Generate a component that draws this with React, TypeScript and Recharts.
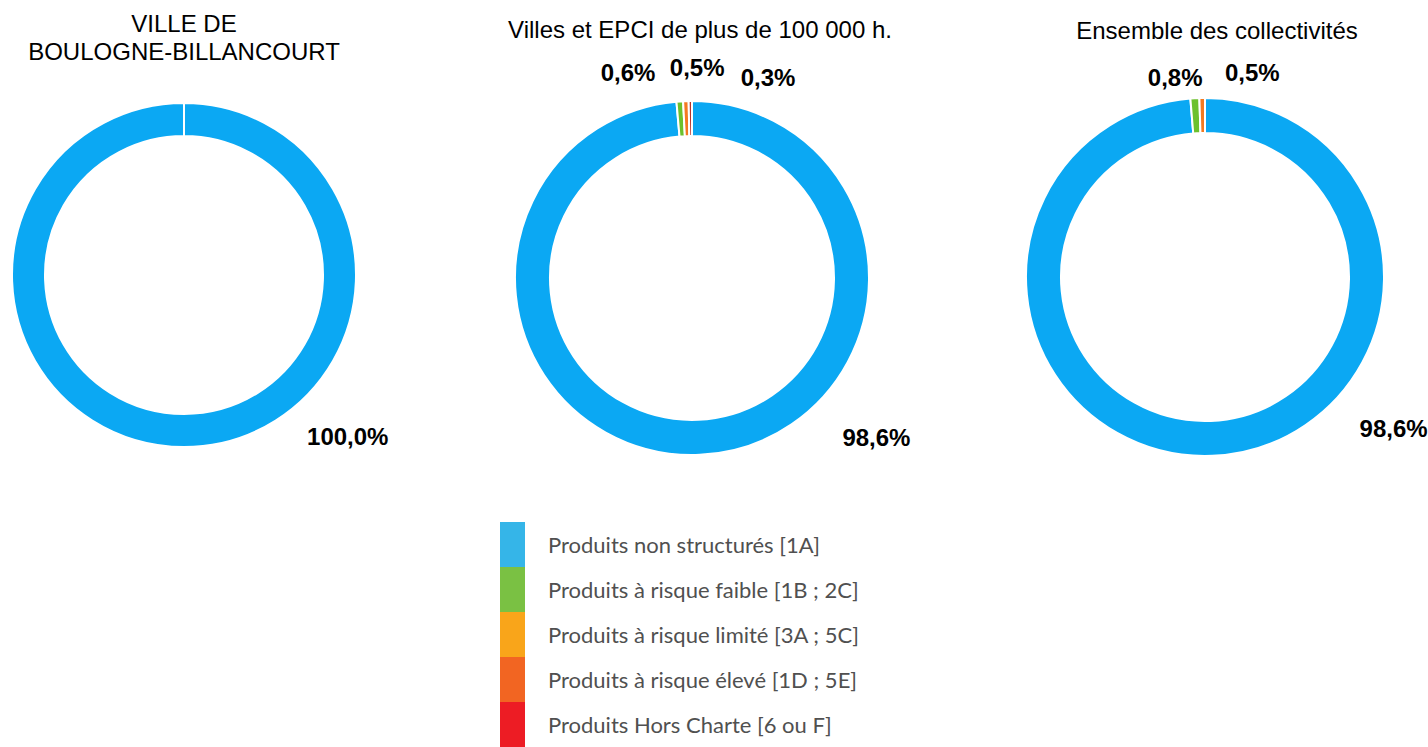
import React from 'react'
import { PieChart, Pie, Cell } from 'recharts'

const CATEGORIES = [
  'Produits non structurés [1A]',
  'Produits à risque faible [1B ; 2C]',
  'Produits à risque limité [3A ; 5C]',
  'Produits à risque élevé [1D ; 5E]',
  'Produits Hors Charte [6 ou F]',
]
const LEGEND_COLORS = ['#35B5E8', '#7AC143', '#F9A51A', '#F26522', '#ED1C24']

const TITLES = ['VILLE DE\nBOULOGNE-BILLANCOURT', 'Villes et EPCI de plus de 100 000 h.', 'Ensemble des collectivités']

// slices drawn clockwise from 12 o'clock
const BOULOGNE_VALUES = [100.0]
const BOULOGNE_COLORS = ['#0BA8F3']
const EPCI_VALUES = [98.6, 0.6, 0.5, 0.3]
const EPCI_COLORS = ['#0BA8F3', '#6CC12C', '#F47920', '#B8312A']
const ENSEMBLE_VALUES = [98.6, 0.8, 0.5]
const ENSEMBLE_COLORS = ['#0BA8F3', '#6CC12C', '#F47920']

// label placement per slice: angle (deg) and distance from centre
const LABEL_SPOTS = [
  [{ a: -44.6, r: 230 }],
  [{ a: -40.9, r: 244 }, { a: 107.3, r: 215 }, { a: 88.6, r: 211 }, { a: 69.2, r: 214 }],
  [{ a: -38.8, r: 242 }, { a: 98.5, r: 202 }, { a: 77, r: 210 }],
]

const fmt = (v: number) => v.toFixed(1).replace('.', ',') + '%'

const makeLabel = (chart: number) => (props: any) => {
  const { cx, cy, index, value } = props
  const spot = LABEL_SPOTS[chart][index]
  const rad = (spot.a * Math.PI) / 180
  return (
    <text
      x={cx + spot.r * Math.cos(rad)}
      y={cy - spot.r * Math.sin(rad)}
      textAnchor="middle"
      dominantBaseline="central"
      fontSize={24}
      fontWeight="bold"
      fill="#000"
      fontFamily="'Liberation Sans', Arial, sans-serif"
    >
      {fmt(value)}
    </text>
  )
}

const PIES = [
  { values: BOULOGNE_VALUES, colors: BOULOGNE_COLORS, cx: 184, cy: 275, inner: 139, outer: 172 },
  { values: EPCI_VALUES, colors: EPCI_COLORS, cx: 692, cy: 278, inner: 142, outer: 177 },
  { values: ENSEMBLE_VALUES, colors: ENSEMBLE_COLORS, cx: 1205, cy: 277, inner: 144, outer: 179 },
]

const titleX = [184, 700, 1217]
const titleY = [24, 30, 31]

export default function App() {
  return (
    <div style={{ position: 'absolute', left: 0, top: 0, width: 1428, height: 747, background: '#fff', overflow: 'hidden' }}>
      {TITLES.map((t, i) => (
        <div
          key={i}
          style={{
            position: 'absolute',
            left: titleX[i] - 250,
            top: titleY[i] - 14,
            width: 500,
            textAlign: 'center',
            whiteSpace: 'pre-line',
            fontFamily: "'Liberation Sans', Arial, sans-serif",
            fontSize: 24,
            lineHeight: '28px',
            color: '#000',
          }}
        >
          {t}
        </div>
      ))}
      <PieChart
        width={1428}
        height={500}
        margin={{ top: 0, right: 0, bottom: 0, left: 0 }}
        style={{ position: 'absolute', left: 0, top: 0 }}
      >
        {PIES.map((p, i) => (
          <Pie
            key={i}
            data={p.values.map((v, j) => ({ name: CATEGORIES[j], value: v }))}
            dataKey="value"
            cx={p.cx}
            cy={p.cy}
            innerRadius={p.inner}
            outerRadius={p.outer}
            startAngle={90}
            endAngle={-270}
            stroke="#fff"
            strokeWidth={2}
            label={makeLabel(i)}
            labelLine={false}
            isAnimationActive={false}
          >
            {p.values.map((_, j) => (
              <Cell key={j} fill={p.colors[j]} />
            ))}
          </Pie>
        ))}
      </PieChart>
      <div style={{ position: 'absolute', left: 500, top: 522 }}>
        {CATEGORIES.map((c, i) => (
          <div key={c} style={{ display: 'flex', alignItems: 'center', height: 45 }}>
            <div style={{ width: 25, height: 45, background: LEGEND_COLORS[i] }} />
            <span
              style={{
                marginLeft: 23,
                fontFamily: 'Lato, sans-serif',
                fontSize: 22,
                color: '#505050',
              }}
            >
              {c}
            </span>
          </div>
        ))}
      </div>
    </div>
  )
}
